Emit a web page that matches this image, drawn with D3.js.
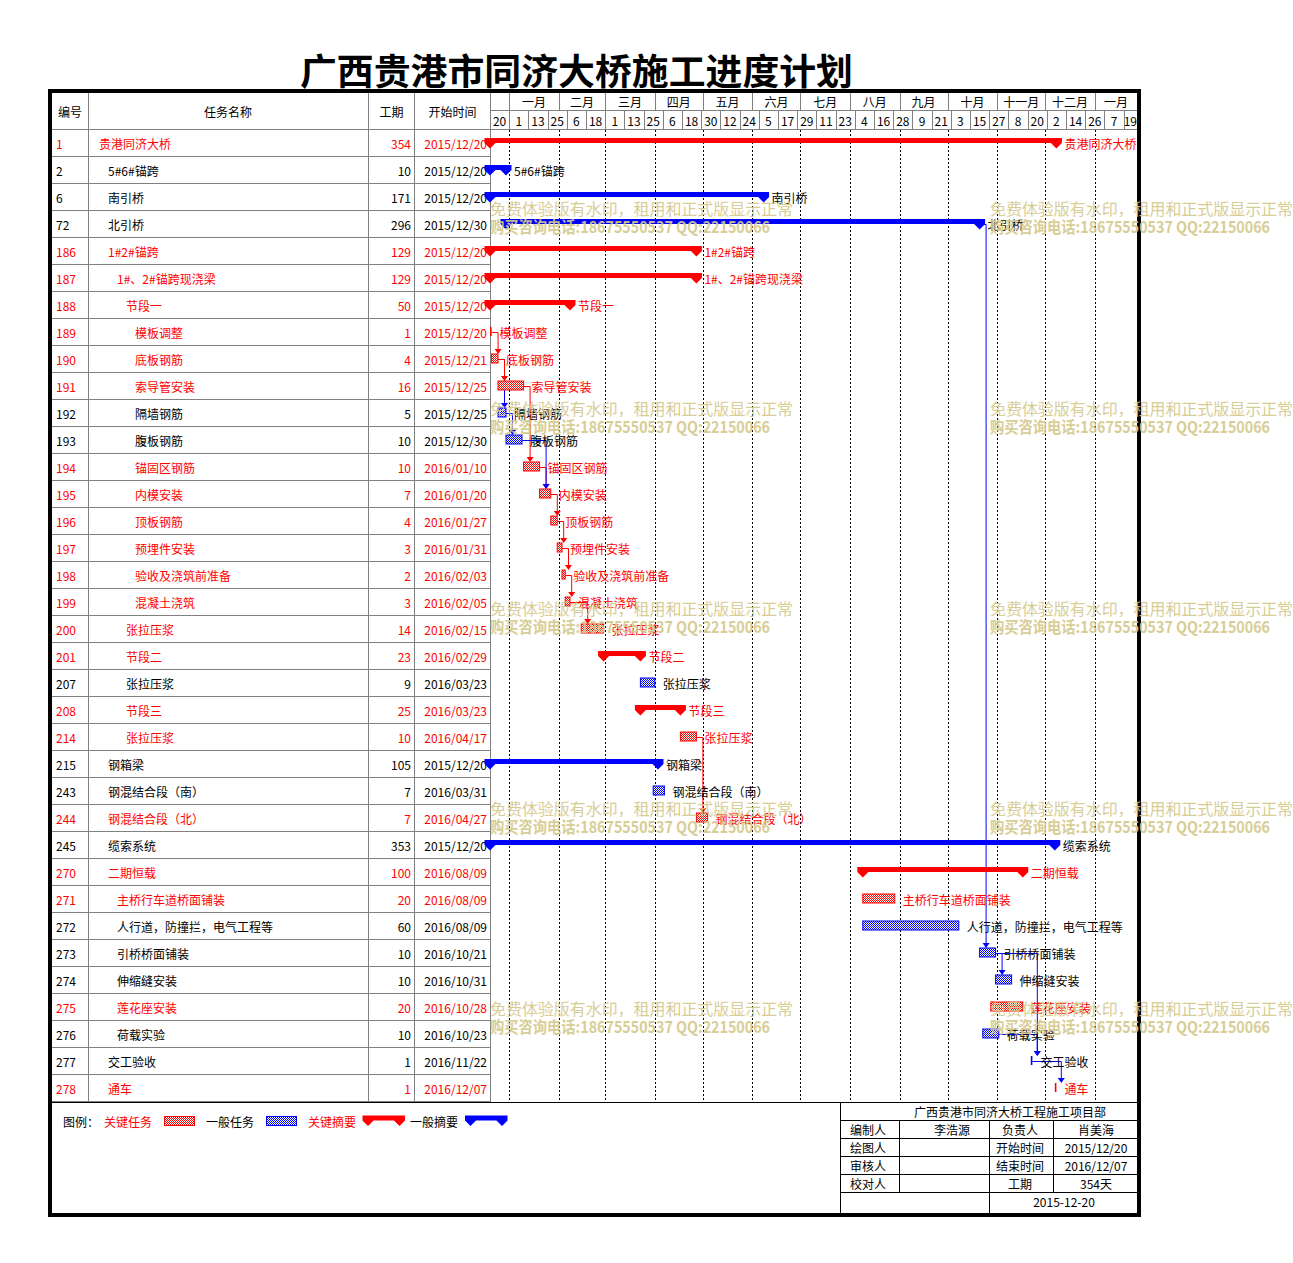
<!DOCTYPE html>
<html>
<head>
<meta charset="utf-8">
<script src="https://cdn.jsdelivr.net/npm/d3@7"></script>
<style>
  body { margin: 0; background: #fff; }
  text { font-family: "Noto Sans CJK SC", "Noto Sans", sans-serif; }
</style>
</head>
<body>
<div id="chart"></div>
<script>
// task table, one entry per row
var ids = [1, 2, 6, 72, 186, 187, 188, 189, 190, 191, 192, 193, 194, 195, 196, 197, 198, 199,
  200, 201, 207, 208, 214, 215, 243, 244, 245, 270, 271, 272, 273, 274, 275, 276, 277, 278];
var names = ["贵港同济大桥", "5#6#锚跨", "南引桥", "北引桥", "1#2#锚跨", "1#、2#锚跨现浇梁", "节段一",
  "模板调整", "底板钢筋", "索导管安装", "隔墙钢筋", "腹板钢筋", "锚固区钢筋", "内模安装", "顶板钢筋",
  "预埋件安装", "验收及浇筑前准备", "混凝土浇筑", "张拉压浆", "节段二", "张拉压浆", "节段三", "张拉压浆",
  "钢箱梁", "钢混结合段（南）", "钢混结合段（北）", "缆索系统", "二期恒载", "主桥行车道桥面铺装",
  "人行道，防撞拦，电气工程等", "引桥桥面铺装", "伸缩缝安装", "莲花座安装", "荷载实验", "交工验收", "通车"];
var durations = [354, 10, 171, 296, 129, 129, 50, 1, 4, 16, 5, 10, 10, 7, 4, 3, 2, 3,
  14, 23, 9, 25, 10, 105, 7, 7, 353, 100, 20, 60, 10, 10, 20, 10, 1, 1];
var starts = ["2015/12/20", "2015/12/20", "2015/12/20", "2015/12/30", "2015/12/20", "2015/12/20",
  "2015/12/20", "2015/12/20", "2015/12/21", "2015/12/25", "2015/12/25", "2015/12/30", "2016/01/10",
  "2016/01/20", "2016/01/27", "2016/01/31", "2016/02/03", "2016/02/05", "2016/02/15", "2016/02/29",
  "2016/03/23", "2016/03/23", "2016/04/17", "2015/12/20", "2016/03/31", "2016/04/27", "2015/12/20",
  "2016/08/09", "2016/08/09", "2016/08/09", "2016/10/21", "2016/10/31", "2016/10/28", "2016/10/23",
  "2016/11/22", "2016/12/07"];
var levels = [1, 2, 2, 2, 2, 3, 4, 5, 5, 5, 5, 5, 5, 5, 5, 5, 5, 5,
  4, 4, 4, 4, 4, 2, 2, 2, 2, 2, 3, 3, 3, 3, 3, 3, 2, 2];
var critical = [1, 0, 0, 0, 1, 1, 1, 1, 1, 1, 0, 0, 1, 1, 1, 1, 1, 1,
  1, 1, 0, 1, 1, 0, 0, 1, 0, 1, 1, 0, 0, 0, 1, 0, 0, 1];
var summary = [1, 1, 1, 1, 1, 1, 1, 0, 0, 0, 0, 0, 0, 0, 0, 0, 0, 0,
  0, 1, 0, 1, 0, 1, 0, 0, 1, 1, 0, 0, 0, 0, 0, 0, 0, 0];

// finish-to-start links (by task id)
var linkFrom = [189, 190, 190, 191, 192, 194, 193, 195, 196, 197, 198, 199, 214, 72, 273, 273, 276, 277];
var linkTo = [190, 192, 191, 194, 193, 195, 195, 196, 197, 198, 199, 200, 244, 273, 274, 277, 277, 278];

// timescale labels
var monthLabels = ["一月", "二月", "三月", "四月", "五月", "六月", "七月", "八月", "九月", "十月", "十一月", "十二月", "一月"];
var headerLabels = ["编号", "任务名称", "工期", "开始时间"];

// legend and sign-off block
var legendLabels = ["图例：", "关键任务", "一般任务", "关键摘要", "一般摘要"];
var signRows = [["编制人", "李浩源", "负责人", "肖美海"], ["绘图人", "", "开始时间", "2015/12/20"],
  ["审核人", "", "结束时间", "2016/12/07"], ["校对人", "", "工期", "354天"]];
var signTitle = "广西贵港市同济大桥工程施工项目部";
var signDate = "2015-12-20";
var title = "广西贵港市同济大桥施工进度计划";
var watermark = ["免费体验版有水印，租用和正式版显示正常", "购买咨询电话:18675550537 QQ:22150066"];

var RED = "#ff0000", BLUE = "#0000ff", GRID = "#808080";

var svg = d3.select("#chart").append("svg")
  .attr("width", 1293)
  .attr("height", 1263);

var defs = svg.append("defs");
function hatch(id, color) {
  var p = defs.append("pattern").attr("id", id)
    .attr("patternUnits", "userSpaceOnUse").attr("width", 2).attr("height", 2);
  p.append("rect").attr("width", 2).attr("height", 2).attr("fill", "#fff");
  p.append("rect").attr("width", 1).attr("height", 1).attr("fill", color);
  p.append("rect").attr("x", 1).attr("y", 1).attr("width", 1).attr("height", 1).attr("fill", color);
}
hatch("hatchRed", RED);
hatch("hatchBlue", BLUE);

var parse = d3.utcParse("%Y/%m/%d");
var tasks = ids.map(function (id, i) {
  var s = parse(starts[i]);
  return {
    id: id, name: names[i], dur: durations[i], startText: starts[i], start: s,
    end: d3.utcDay.offset(s, durations[i]), level: levels[i], crit: critical[i] === 1,
    summary: summary[i] === 1, row: i
  };
});
var byId = {};
tasks.forEach(function (t) { byId[t.id] = t; });

// scales
var t0 = parse("2015/12/20"), t1 = parse("2017/01/27");
var xScale = d3.scaleUtc()
  .domain([t0, t1])
  .range([490, 490 + d3.utcDay.count(t0, t1) * 1.6]);
var gRight = 1137;
var yBand = d3.scaleBand()
  .domain(d3.range(ids.length))
  .range([129.5, 129.5 + 27 * ids.length]);
function cy(i) { return yBand(i) + yBand.bandwidth() / 2; }

// title
svg.append("text")
  .attr("x", 300).attr("y", 69)
  .attr("dominant-baseline", "central")
  .attr("font-size", "36px").attr("font-weight", "bold")
  .attr("textLength", 553).attr("lengthAdjust", "spacingAndGlyphs")
  .text(title);

// table grid
var colX = [52, 88, 368.5, 414.5, 490.5];
var tableBottom = 129.5 + 27 * ids.length;
var grid = svg.append("g").attr("stroke", GRID).attr("stroke-width", 1).attr("shape-rendering", "crispEdges");
colX.slice(1).forEach(function (x) {
  grid.append("line").attr("x1", x).attr("x2", x).attr("y1", 93).attr("y2", tableBottom);
});
d3.range(ids.length + 1).forEach(function (k) {
  grid.append("line").attr("x1", 52).attr("x2", 490.5)
    .attr("y1", 129.5 + 27 * k).attr("y2", 129.5 + 27 * k);
});
grid.append("line").attr("x1", 490.5).attr("x2", gRight).attr("y1", 129.5).attr("y2", 129.5);
grid.append("line").attr("x1", 490.5).attr("x2", gRight).attr("y1", 110.5).attr("y2", 110.5);

// header text
var headerCenters = [70, 228, 391.5, 452.5];
headerLabels.forEach(function (h, i) {
  svg.append("text").attr("x", headerCenters[i]).attr("y", 111)
    .attr("text-anchor", "middle").attr("dominant-baseline", "central")
    .attr("font-size", "12px").text(h);
});

// timescale: months
var months = d3.utcMonth.range(d3.utcMonth.ceil(t0), t1);
months.forEach(function (m, i) {
  var xa = xScale(m);
  var xb = i + 1 < months.length ? xScale(months[i + 1]) : gRight;
  grid.append("line").attr("x1", Math.round(xa) + 0.5).attr("x2", Math.round(xa) + 0.5).attr("y1", 93).attr("y2", 110.5);
  svg.append("text").attr("x", (xa + xb) / 2).attr("y", 101.5)
    .attr("text-anchor", "middle").attr("dominant-baseline", "central")
    .attr("font-size", "12px").text(monthLabels[i]);
});

// timescale: 12-day cells
var dayTicks = d3.range(0, 34).map(function (k) { return d3.utcDay.offset(t0, 12 * k); });
dayTicks.forEach(function (d, i) {
  var xa = xScale(d);
  var xb = i + 1 < dayTicks.length ? xScale(dayTicks[i + 1]) : gRight;
  if (i > 0) {
    grid.append("line").attr("x1", Math.round(xa) + 0.5).attr("x2", Math.round(xa) + 0.5).attr("y1", 110.5).attr("y2", 129.5);
  }
  svg.append("text").attr("x", (xa + Math.min(xb, gRight)) / 2).attr("y", 120)
    .attr("text-anchor", "middle").attr("dominant-baseline", "central")
    .attr("font-size", "12px").text(d3.utcFormat("%-d")(d));
});

// dotted month lines in the body
svg.append("g").selectAll("line")
  .data(months)
  .enter()
  .append("line")
  .attr("x1", d => Math.round(xScale(d)) + 0.5)
  .attr("x2", d => Math.round(xScale(d)) + 0.5)
  .attr("y1", 129.5).attr("y2", tableBottom)
  .attr("stroke", "#000").attr("stroke-dasharray", "2,2")
  .attr("shape-rendering", "crispEdges");

// table rows
var rowText = svg.append("g").attr("font-size", "12px").attr("dominant-baseline", "central");
tasks.forEach(function (t) {
  var c = t.crit ? RED : "#000";
  rowText.append("text").attr("x", 56).attr("y", cy(t.row)).attr("fill", c).text(t.id);
  rowText.append("text").attr("x", 90 + 9 * t.level).attr("y", cy(t.row)).attr("fill", c).text(t.name);
  rowText.append("text").attr("x", 411).attr("y", cy(t.row)).attr("text-anchor", "end").attr("fill", c).text(t.dur);
  rowText.append("text").attr("x", 487).attr("y", cy(t.row)).attr("text-anchor", "end").attr("fill", c).text(t.startText);
});

// links
var linkG = svg.append("g");
linkFrom.forEach(function (f, i) {
  var a = byId[f], b = byId[linkTo[i]];
  var col = a.crit && b.crit ? RED : BLUE;
  var xe = xScale(a.end), ya = cy(a.row);
  var xt = xScale(b.start) + 6.5, yb = cy(b.row) - 5;
  linkG.append("path")
    .attr("d", `M${xe},${Math.round(ya) + 0.5}H${xt}V${yb - 4}`)
    .attr("fill", "none").attr("stroke", col).attr("stroke-width", 1);
  linkG.append("path")
    .attr("d", `M${xt - 3.5},${yb - 5}H${xt + 3.5}L${xt},${yb}Z`)
    .attr("fill", col);
});

// bars
function summaryPath(s, e, y) {
  var w = 5.5, top = y - 5, bot = y, tip = y + 5.5;
  return `M${s - w},${top}H${e + w}V${bot}L${e},${tip}L${e - w},${bot}H${s + w}L${s},${tip}L${s - w},${bot}Z`;
}
var barG = svg.append("g");
tasks.forEach(function (t) {
  var s = xScale(t.start), e = xScale(t.end), y = cy(t.row);
  var col = t.crit ? RED : BLUE;
  if (t.summary) {
    barG.append("path").attr("d", summaryPath(s, e, y)).attr("fill", col);
  } else {
    barG.append("rect")
      .attr("x", s).attr("y", y - 5)
      .attr("width", Math.max(e - s, 1)).attr("height", 9)
      .attr("fill", t.dur > 1 ? (t.crit ? "url(#hatchRed)" : "url(#hatchBlue)") : col)
      .attr("stroke", col).attr("stroke-width", t.dur > 1 ? 1 : 0);
  }
  barG.append("text")
    .attr("x", e + 8).attr("y", y)
    .attr("dominant-baseline", "central").attr("font-size", "12px")
    .attr("fill", t.crit ? RED : "#000")
    .text(t.name);
});

// bottom area: separator, legend, sign-off block
svg.append("line").attr("x1", 52).attr("x2", gRight).attr("y1", 1102.5).attr("y2", 1102.5)
  .attr("stroke", "#000");

var legX = [63, 104, 206, 308, 410];
var legC = ["#000", RED, "#000", RED, "#000"];
legendLabels.forEach(function (l, i) {
  svg.append("text").attr("x", legX[i]).attr("y", 1121).attr("dominant-baseline", "central")
    .attr("font-size", "12px").attr("fill", legC[i]).text(l);
});
svg.append("rect").attr("x", 164.5).attr("y", 1116.5).attr("width", 30).attr("height", 9)
  .attr("fill", "url(#hatchRed)").attr("stroke", RED);
svg.append("rect").attr("x", 266.5).attr("y", 1116.5).attr("width", 30).attr("height", 9)
  .attr("fill", "url(#hatchBlue)").attr("stroke", BLUE);
svg.append("path").attr("d", summaryPath(368, 399.5, 1120.5)).attr("fill", RED);
svg.append("path").attr("d", summaryPath(470.5, 502, 1120.5)).attr("fill", BLUE);

var sCols = [840.5, 899.5, 989.5, 1053.5, gRight];
var sCenters = [868, 952, 1020, 1096];
var sRows = [1102.5, 1120.5, 1138.5, 1156.5, 1174.5, 1192.5, 1213];
var sg = svg.append("g").attr("stroke", "#000").attr("shape-rendering", "crispEdges");
sg.append("line").attr("x1", sCols[0]).attr("x2", sCols[0]).attr("y1", sRows[0]).attr("y2", sRows[6]);
sRows.slice(1, 6).forEach(function (y) {
  sg.append("line").attr("x1", sCols[0]).attr("x2", gRight).attr("y1", y).attr("y2", y);
});
[1, 3].forEach(function (k) {
  sg.append("line").attr("x1", sCols[k]).attr("x2", sCols[k]).attr("y1", sRows[1]).attr("y2", sRows[5]);
});
sg.append("line").attr("x1", sCols[2]).attr("x2", sCols[2]).attr("y1", sRows[1]).attr("y2", sRows[6]);

var st = svg.append("g").attr("font-size", "12px").attr("text-anchor", "middle").attr("dominant-baseline", "central");
st.append("text").attr("x", 1010).attr("y", 1111.5).text(signTitle);
signRows.forEach(function (r, i) {
  r.forEach(function (v, k) {
    st.append("text").attr("x", sCenters[k]).attr("y", sRows[i + 1] + 9).text(v);
  });
});
st.append("text").attr("x", 1064).attr("y", 1201.5).text(signDate);

// outer frame
svg.append("rect").attr("x", 50).attr("y", 91).attr("width", 1089).attr("height", 1124)
  .attr("fill", "none").attr("stroke", "#000").attr("stroke-width", 4);

// trial watermark
var wm = svg.append("g").attr("fill", "#d4c98a").attr("opacity", 0.9).attr("font-size", "16px");
[490, 990].forEach(function (x) {
  [208, 408, 608, 808, 1008].forEach(function (y) {
    wm.append("text").attr("x", x).attr("y", y).attr("dominant-baseline", "central")
      .attr("textLength", 303).attr("lengthAdjust", "spacingAndGlyphs").text(watermark[0]);
    wm.append("text").attr("x", x).attr("y", y + 18).attr("dominant-baseline", "central")
      .attr("font-weight", "bold")
      .attr("textLength", 280).attr("lengthAdjust", "spacingAndGlyphs").text(watermark[1]);
  });
});
</script>
</body>
</html>
